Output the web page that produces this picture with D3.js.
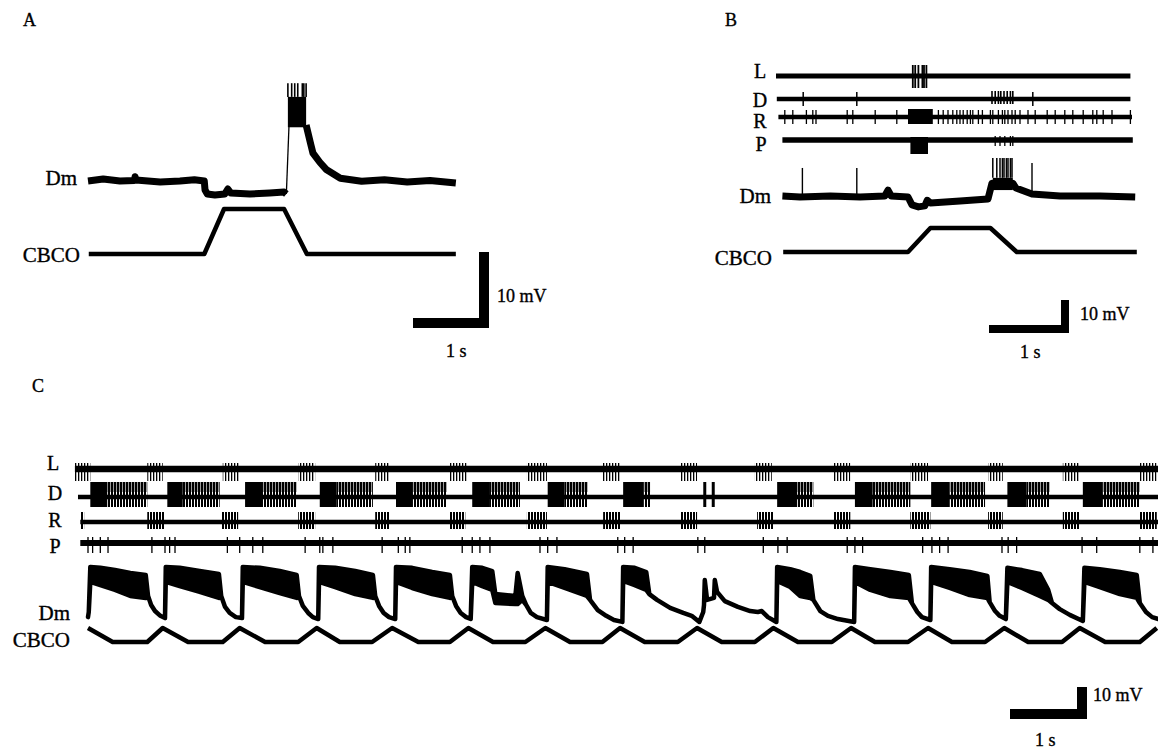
<!DOCTYPE html>
<html><head><meta charset="utf-8">
<script src="https://cdn.jsdelivr.net/npm/d3@7"></script>
<style>
body{margin:0;background:#fff}
svg text{font-family:"Liberation Serif","Times New Roman",serif;fill:#000;stroke:#000;stroke-width:0.35}
</style>
</head><body>
<svg id="fig" width="1158" height="749"></svg>
<script>
// ===================== DATA =====================
// Panel A  (time in s, Dm in mV relative to rest, CBCO in arbitrary units 0..1)
const aDmPre = [[0,0.13],[0.2,0.4],[0.42,0.13],[0.61,0.2],[0.62,0.7],[0.63,0.26],[0.95,0],[1.21,0.13],[1.40,0.3],[1.53,0.13],[1.54,-1.05],[1.57,-1.58],[1.67,-1.71],[1.80,-1.58],[1.84,-0.92],[1.88,-1.45],[2.13,-1.58],[2.39,-1.45],[2.58,-1.32],[2.61,-1.58]];
const aUpstroke = [[2.61,-1.58],[2.645,7.5]];
const aDmPost = [[2.87,7.5],[2.93,5.0],[2.96,3.8],[3.05,2.6],[3.14,1.6],[3.32,0.5],[3.60,0.1],[3.90,0.3],[4.20,0],[4.50,0.2],[4.84,-0.13]];
const aBurstSpan = [2.63, 2.87];
const aBurstLevels = [7.2, 11.2];
const aBurstSpikes = [2.63, 2.68, 2.72, 2.76, 2.82, 2.84, 2.87];
const aSpikePeak = 13.0;
const aCbco = [[0.01,0],[1.53,0],[1.79,1],[2.58,1],[2.88,0],[4.84,0]];

// Panel B
const bExtent = {L:[0,4.43], D:[0.01,4.43], R:[0.03,4.45], P:[0.08,4.46]};
const bLSpikes = [1.71,1.74,1.78,1.83,1.85,1.88];
const bDSpikes = [0.34,1.01,3.21];
const bDBurstSpikes = [2.70,2.74,2.78,2.81,2.85,2.89,2.93,2.96];
const bRSpikes = [0.11,0.21,0.38,0.46,0.50,0.89,0.96,1.24,1.51,2.03,2.09,2.15,2.21,2.26,2.30,2.34,2.39,2.43,2.46,2.53,2.58,2.68,2.71,2.78,2.83,2.86,2.90,2.95,2.99,3.05,3.15,3.24,3.39,3.49,3.61,3.71,3.84,3.96,4.01,4.09,4.20,4.43];
const bRBurst = [1.65,1.96];
const bPBurst = [1.68,1.90];
const bPSpikes = [2.74,2.80,2.86,2.93,2.96];
const bDm = [[0.08,0.3],[0.30,0],[0.68,0.3],[1.05,0],[1.36,0.3],[1.40,2.1],[1.44,0.3],[1.65,0],[1.70,-2.4],[1.78,-3.0],[1.86,-2.7],[1.89,-1.0],[1.93,-1.8],[2.30,-1.2],[2.65,-0.6],[2.70,4.2],[2.96,4.2],[3.00,2.7],[3.20,0.9],[3.55,0.3],[4.05,0.3],[4.49,0]];
const bDmSpikes = [[0.33,8.8],[1.01,8.8],[3.20,10.3]];
const bDmBurstSpikes = [2.71,2.76,2.80,2.83,2.85,2.88,2.90,2.93,2.95];
const bDmBurstSpan = [2.71,2.96];
const bDmBurstLevels = [2.1,5.8];
const bDmBurstPeak = 11.8;
const bCbco = [[0.09,0],[1.65,0],[1.93,1],[2.68,1],[3.01,0],[4.51,0]];

// Panel C
const cExtent = {L:[-0.17,13.90], D:[-0.13,13.90], R:[-0.10,13.90], P:[-0.10,13.90]};
const cLBursts = [[-0.17,0.03],[0.77,0.97],[1.75,1.97],[2.73,2.95],[3.73,3.92],[4.70,4.92],[5.70,5.96],[6.68,6.91],[7.69,7.91],[8.66,8.88],[9.68,9.90],[10.68,10.91],[11.69,11.88],[12.66,12.88],[13.66,13.88]];
// D bursts: [dense start, dense end, sparse end]
const cDBursts = [[0.03,0.25,0.77],[1.03,1.23,1.71],[2.04,2.26,2.71],[3.01,3.23,3.70],[4.00,4.22,4.66],[4.99,5.22,5.61],[5.97,6.19,6.49],[6.95,7.21,7.30],[8.95,9.21,9.42],[9.96,10.19,10.68],[10.95,11.19,11.65],[11.94,12.19,12.49],[12.92,13.18,13.66]];
const cDSpikes = [8.01,8.12];
const cRBursts = [[-0.10,-0.05],[0.77,1.00],[1.74,1.95],[2.73,2.95],[3.73,3.92],[4.70,4.90],[5.70,5.96],[6.69,6.91],[7.69,7.91],[8.69,8.90],[9.68,9.90],[10.68,10.94],[11.69,11.88],[12.66,12.88],[13.65,13.88]];
const cPSpikes = [0.00,0.06,0.16,0.26,0.83,1.00,1.06,1.13,1.81,1.97,2.14,2.27,2.82,3.01,3.05,3.18,3.82,4.03,4.12,4.18,4.86,4.99,5.09,5.22,5.87,5.97,6.09,6.88,6.97,7.08,7.92,8.01,8.77,8.96,9.08,9.86,9.96,10.06,10.84,10.96,11.06,11.17,11.87,11.95,12.06,12.91,13.10,13.66,13.83];
// Dm: [time s, upper envelope mV, lower envelope mV]
const cDm = [
[0.00,0.9,0.9],[0.01,2.5,2.5],[0.03,16.6,11.9],[0.16,16.3,10.9],[0.35,15.6,9.4],[0.55,14.7,7.5],[0.75,14.1,6.9],[0.78,7.5,7.5],[0.82,4.7,4.7],[0.87,2.8,2.8],[0.94,1.3,1.3],[1.00,0.6,0.6],
[1.01,16.6,11.9],[1.19,16.3,10.6],[1.45,15.3,8.8],[1.70,14.4,6.9],[1.73,7.5,7.5],[1.78,4.1,4.1],[1.84,2.2,2.2],[1.92,0.9,0.9],[2.00,0.6,0.6],
[2.01,16.6,11.9],[2.23,16.3,10.3],[2.49,15.3,8.4],[2.71,14.1,6.9],[2.74,7.5,7.5],[2.79,4.4,4.4],[2.86,2.2,2.2],[2.92,0.9,0.9],[2.99,0.3,0.3],
[3.00,16.6,11.9],[3.21,16.3,10.3],[3.47,15.3,8.1],[3.70,14.1,6.9],[3.73,7.5,7.5],[3.78,4.4,4.4],[3.84,2.2,2.2],[3.91,0.9,0.9],[3.99,0.3,0.3],
[4.00,16.6,11.9],[4.21,16.3,10.0],[4.47,15.0,8.1],[4.70,14.1,6.9],[4.73,7.5,7.5],[4.78,4.4,4.4],[4.84,2.2,2.2],[4.91,0.9,0.9],[4.97,0.3,0.3],
[4.99,16.6,11.9],[5.12,16.3,10.6],[5.25,15.3,9.4],[5.29,8.1,5.3],[5.55,7.5,5.0],[5.58,14.7,5.0],[5.64,7.5,6.3],[5.69,4.7,4.7],[5.75,2.2,2.2],[5.83,0.9,0.9],[5.96,0,0],
[5.97,16.6,11.9],[6.19,15.9,10.0],[6.48,14.4,7.5],[6.52,6.3,6.3],[6.62,3.1,3.1],[6.73,1.3,1.3],[6.83,0,0],[6.94,-0.6,-0.6],
[6.95,16.6,12.2],[7.10,16.3,10.9],[7.25,15.0,9.4],[7.29,8.1,8.1],[7.39,6.3,6.3],[7.56,3.8,3.8],[7.73,2.2,2.2],[7.84,1.3,1.3],[7.94,-0.6,-0.6],
[7.99,2.5,2.5],[8.00,4.7,4.7],[8.01,12.5,12.5],[8.04,6.3,6.3],[8.13,6.9,6.9],[8.14,12.5,12.5],[8.17,8.8,8.8],[8.27,5.9,5.9],[8.44,4.1,4.1],[8.60,2.8,2.8],[8.70,2.5,2.5],[8.75,2.8,2.8],[8.83,0.9,0.9],[8.94,-0.6,-0.6],
[8.95,16.6,12.2],[9.12,15.9,10.3],[9.25,15.0,7.5],[9.38,13.8,6.9],[9.42,6.3,6.3],[9.51,2.8,2.8],[9.61,1.3,1.3],[9.74,0.3,0.3],[9.95,-0.6,-0.6],
[9.96,16.6,11.9],[10.16,15.9,9.4],[10.42,15.0,7.5],[10.66,14.1,6.9],[10.70,5.3,5.3],[10.77,2.5,2.5],[10.83,0.9,0.9],[10.94,0,0],
[10.95,16.6,11.9],[11.19,15.9,10.0],[11.45,15.0,7.8],[11.68,13.8,6.9],[11.71,5.6,5.6],[11.78,2.8,2.8],[11.84,1.3,1.3],[11.92,0.3,0.3],
[11.94,16.3,11.9],[12.13,15.6,10.0],[12.36,14.4,7.5],[12.47,9.4,6.3],[12.52,5.3,5.3],[12.62,3.4,3.4],[12.75,1.6,1.6],[12.92,-0.3,-0.3],
[12.94,16.3,11.9],[13.14,15.9,10.3],[13.40,15.0,8.1],[13.62,14.1,6.9],[13.66,5.3,5.3],[13.74,2.5,2.5],[13.82,0.9,0.9],[13.90,0.3,0.3]
];
const cCbco = [[0,1],[0.32,0],[0.77,0],[0.97,1],[1.30,0],[1.75,0],[1.97,1],[2.30,0],[2.73,0],[2.97,1],[3.27,0],[3.69,0],[3.95,1],[4.29,0],[4.70,0],[4.94,1],[5.26,0],[5.68,0],[5.94,1],[6.26,0],[6.68,0],[6.91,1],[7.23,0],[7.66,0],[7.91,1],[8.23,0],[8.66,0],[8.90,1],[9.22,0],[9.66,0],[9.91,1],[10.22,0],[10.65,0],[10.91,1],[11.22,0],[11.65,0],[11.90,1],[12.21,0],[12.65,0],[12.88,1],[13.21,0],[13.66,0],[13.88,1]];

const scaleLabels = {v:"10 mV", t:"1 s"};

// ===================== DRAWING =====================
const svg = d3.select("#fig");
const defs = svg.append("defs");
function stripePattern(id, w, bw){
  defs.append("pattern").attr("id",id).attr("patternUnits","userSpaceOnUse")
    .attr("width",w).attr("height",6)
    .append("rect").attr("width",bw).attr("height",6).attr("fill","#000");
}
stripePattern("stripes",3,2);
stripePattern("stripesDense",3,2.4);
stripePattern("stripesLight",3,1.3);

function label(g, txt, x, y, size, anchor){
  g.append("text").attr("x",x).attr("y",y).attr("font-size",size)
   .attr("text-anchor",anchor||"start").text(txt);
}
function trace(g, data, x, y, w){
  g.append("path").datum(data)
   .attr("d", d3.line().x(d=>x(d[0])).y(d=>y(d[1])))
   .attr("fill","none").attr("stroke","#000").attr("stroke-width",w)
   .attr("stroke-linejoin","round").attr("stroke-linecap","butt");
}
function hline(g, ext, x, y0, w){
  g.append("line").attr("x1",x(ext[0])).attr("x2",x(ext[1]))
   .attr("y1",y0).attr("y2",y0).attr("stroke","#000").attr("stroke-width",w);
}
function spikes(g, times, x, y1, y2, w){
  g.append("g").selectAll("line").data(times).join("line")
   .attr("x1",d=>x(d)).attr("x2",d=>x(d)).attr("y1",y1).attr("y2",y2)
   .attr("stroke","#000").attr("stroke-width",w);
}
function blocks(g, spans, x, y1, y2, fill){
  g.append("g").selectAll("rect").data(spans).join("rect")
   .attr("x",d=>x(d[0])).attr("width",d=>Math.max(1,x(d[1])-x(d[0])))
   .attr("y",y1).attr("height",y2-y1).attr("fill",fill);
}
function scaleBar(g, right, bottom, lenX, lenY, th){
  g.append("rect").attr("x",right-th).attr("y",bottom-lenY).attr("width",th).attr("height",lenY).attr("fill","#000");
  g.append("rect").attr("x",right-lenX).attr("y",bottom-th).attr("width",lenX).attr("height",th).attr("fill","#000");
}

// ---------- Panel A ----------
{
  const g = svg.append("g");
  const x = d3.scaleLinear().domain([0,1]).range([88,164]);
  const y = d3.scaleLinear().domain([0,10]).range([182,106]);
  const yc = d3.scaleLinear().domain([0,1]).range([254,209]);
  label(g,"A",23,26,18);
  label(g,"Dm",77,185,21,"end");
  label(g,"CBCO",80,262,21,"end");
  trace(g,aDmPre,x,y,7);
  trace(g,aUpstroke,x,y,1.3);
  trace(g,aDmPost,x,y,7);
  g.append("rect").attr("x",x(aBurstSpan[0])).attr("width",x(aBurstSpan[1])-x(aBurstSpan[0]))
   .attr("y",y(aBurstLevels[1])).attr("height",y(aBurstLevels[0])-y(aBurstLevels[1])).attr("fill","#000");
  spikes(g,aBurstSpikes,x,y(aBurstLevels[1]),y(aSpikePeak),1.6);
  trace(g,aCbco,x,yc,4.5);
  scaleBar(g,489,328,x(1)-x(0),y(0)-y(10),10);
  label(g,scaleLabels.v,497,302,18);
  label(g,scaleLabels.t,446,357,18);
}

// ---------- Panel B ----------
{
  const g = svg.append("g");
  const x = d3.scaleLinear().domain([0,1]).range([776,856]);
  const y = d3.scaleLinear().domain([0,10]).range([197,164]);
  const yc = d3.scaleLinear().domain([0,1]).range([252,228]);
  label(g,"B",725,26,18);
  label(g,"L",760,78,20,"middle");
  label(g,"D",760,107,20,"middle");
  label(g,"R",760,128,20,"middle");
  label(g,"P",761,151,20,"middle");
  label(g,"Dm",771,203,21,"end");
  label(g,"CBCO",772,265,21,"end");
  // L
  hline(g,bExtent.L,x,76,5);
  spikes(g,bLSpikes,x,65,88,1.8);
  // D
  hline(g,bExtent.D,x,99,4.5);
  spikes(g,bDSpikes,x,92,106,1.5);
  spikes(g,bDBurstSpikes,x,91,104,1.6);
  // R
  hline(g,bExtent.R,x,117,4.5);
  spikes(g,bRSpikes,x,110,124,1.3);
  blocks(g,[bRBurst],x,109,124,"#000");
  // P
  hline(g,bExtent.P,x,140,5.5);
  blocks(g,[bPBurst],x,137,154,"#000");
  spikes(g,bPSpikes,x,136,146,1.3);
  // Dm
  trace(g,bDm,x,y,7);
  g.append("g").selectAll("line").data(bDmSpikes).join("line")
   .attr("x1",d=>x(d[0])).attr("x2",d=>x(d[0])).attr("y1",y(0)).attr("y2",d=>y(d[1]))
   .attr("stroke","#000").attr("stroke-width",1.4);
  g.append("rect").attr("x",x(bDmBurstSpan[0])).attr("width",x(bDmBurstSpan[1])-x(bDmBurstSpan[0]))
   .attr("y",y(bDmBurstLevels[1])).attr("height",y(bDmBurstLevels[0])-y(bDmBurstLevels[1])).attr("fill","#000");
  spikes(g,bDmBurstSpikes,x,y(bDmBurstLevels[1]),y(bDmBurstPeak),1.5);
  trace(g,bCbco,x,yc,4.5);
  scaleBar(g,1069,333,x(1)-x(0),y(0)-y(10),8);
  label(g,scaleLabels.v,1080,320,18);
  label(g,scaleLabels.t,1020,358,18);
}

// ---------- Panel C ----------
{
  const g = svg.append("g");
  const x = d3.scaleLinear().domain([0,1]).range([88,165]);
  const y = d3.scaleLinear().domain([0,10]).range([620,588]);
  const yc = d3.scaleLinear().domain([0,1]).range([642,628]);
  label(g,"C",32,392,18);
  label(g,"L",53,470,20,"middle");
  label(g,"D",55,500,20,"middle");
  label(g,"R",55,527,20,"middle");
  label(g,"P",55,553,20,"middle");
  label(g,"Dm",70,620,21,"end");
  label(g,"CBCO",70,647,21,"end");
  // L
  hline(g,cExtent.L,x,469,6.5);
  blocks(g,cLBursts,x,463,481,"url(#stripesLight)");
  // D
  hline(g,cExtent.D,x,497,4.5);
  blocks(g,cDBursts.map(d=>[d[0],d[1]]),x,482,507,"#000");
  blocks(g,cDBursts.map(d=>[d[1],d[2]]),x,482,492,"url(#stripesDense)");
  blocks(g,cDBursts.map(d=>[d[1],d[2]]),x,492,507,"url(#stripes)");
  spikes(g,cDSpikes,x,482,507,3);
  // R
  hline(g,cExtent.R,x,522,4.5);
  blocks(g,cRBursts,x,512,529,"url(#stripes)");
  // P
  hline(g,cExtent.P,x,543,6);
  spikes(g,cPSpikes,x,537,553,1.3);
  // Dm
  g.append("path").datum(cDm)
   .attr("d", d3.area().x(d=>x(d[0])).y1(d=>y(d[1])).y0(d=>y(d[2])))
   .attr("fill","#000").attr("stroke","#000").attr("stroke-width",4.5).attr("stroke-linejoin","round");
  trace(g,cCbco,x,yc,4.5);
  scaleBar(g,1087,719,x(1)-x(0),y(0)-y(10),10);
  label(g,scaleLabels.v,1093,701,18);
  label(g,scaleLabels.t,1035,746,18);
}
</script>
</body></html>
